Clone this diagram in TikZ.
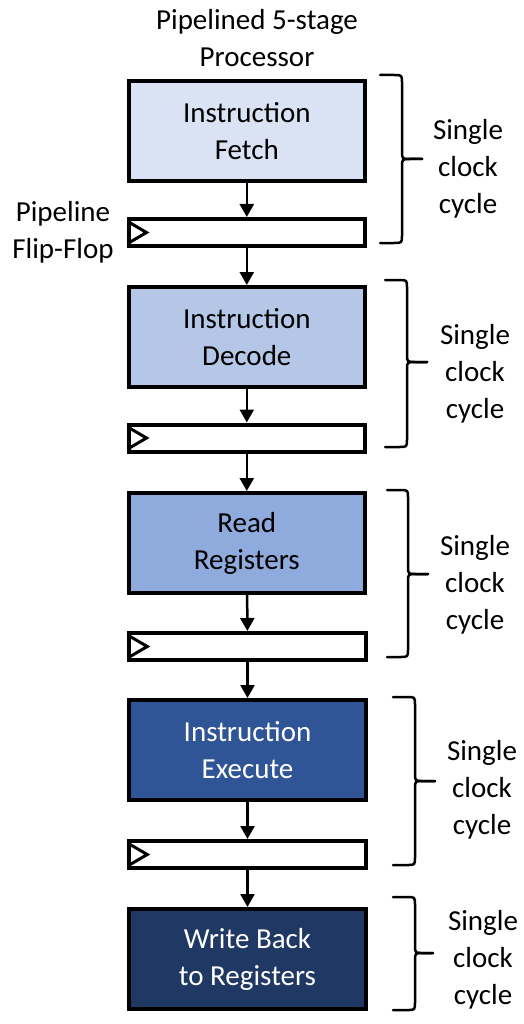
\documentclass[tikz,border=0pt]{standalone}
\usepackage{fontspec}
\setmainfont{Carlito}
\usetikzlibrary{arrows.meta,calc}
\definecolor{c1}{HTML}{DAE3F3}
\definecolor{c2}{HTML}{B4C7E7}
\definecolor{c3}{HTML}{8FAADC}
\definecolor{c4}{HTML}{2F5597}
\definecolor{c5}{HTML}{203864}
\newcommand{\cbrace}[6]{%
  \draw[bracestyle] (#1,#4) -- ({#2-8},#4) .. controls (#2,#4) .. (#2,{#4+8}) -- (#2,{#5-8}) .. controls (#2,#5) .. ({#2+8},#5) -- (#3,#5);
  \draw[bracestyle] (#3,#5) -- ({#2+8},#5) .. controls (#2,#5) .. (#2,{#5+8}) -- (#2,{#6-8}) .. controls (#2,#6) .. ({#2-8},#6) -- (#1,#6);}
\begin{document}
\begin{tikzpicture}[x=1pt,y=-1pt,
  every node/.style={font=\fontsize{29}{37}\selectfont, align=center, inner sep=0pt},
  stage/.style={draw=black, line width=4pt, minimum width=236.5pt, minimum height=100pt},
  ffbox/.style={draw=black, fill=white, line width=4pt, minimum width=236.5pt, minimum height=27pt},
  ffclk/.style={line width=3pt, line join=miter},
  flow/.style={line width=2.5pt, -{Triangle[length=13pt,width=14pt]}},
  bracestyle/.style={line width=2.5pt, line cap=round, line join=round},
  cyc/.style={text=black}]
\useasboundingbox (0,0) rectangle (524,1024);
\fill[white] (0,0) rectangle (524,1024);

\node (title) at (257,38.5) {Pipelined 5-stage\\Processor};
\node (fflabel) at (63,232.5) {Pipeline\\Flip-Flop};

\node[stage, fill=c1] (s1) at (246.8,131) {Instruction\\Fetch};
\node[ffbox] (f1) at (246.8,232.5) {};
\node[stage, fill=c2] (s2) at (246.8,337) {Instruction\\Decode};
\node[ffbox] (f2) at (246.8,438) {};
\node[stage, fill=c3] (s3) at (246.8,543) {Read\\Registers};
\node[ffbox] (f3) at (247.5,646.5) {};
\node[stage, fill=c4, text=white] (s4) at (247.5,750) {Instruction\\Execute};
\node[ffbox] (f4) at (247.5,854.5) {};
\node[stage, fill=c5, text=white] (s5) at (247.5,959) {Write Back\\to Registers};

\foreach \f in {f1,f2,f3,f4}{
  \draw[ffclk] ($(\f.west)+(2,-10.5)$) -- ($(\f.west)+(20,0)$) -- ($(\f.west)+(2,10.5)$);
}

\draw[flow] (s1) -- (f1);
\draw[flow] (f1) -- (s2);
\draw[flow] (s2) -- (f2);
\draw[flow] (f2) -- (s3);
\draw[flow] (s3) -- (f3);
\draw[flow] (f3) -- (s4);
\draw[flow] (s4) -- (f4);
\draw[flow] (f4) -- (s5);

\cbrace{380}{402}{422}{75}{159}{243}
\cbrace{385}{407}{427}{280}{362}{447}
\cbrace{387}{408}{428}{490}{574}{657}
\cbrace{393}{415}{435}{697}{781}{865}
\cbrace{393}{415}{433}{897}{953}{1010}

\node[cyc] (t1) at (468,169) {Single\\clock\\cycle};
\node[cyc] (t2) at (475,374) {Single\\clock\\cycle};
\node[cyc] (t3) at (475,585) {Single\\clock\\cycle};
\node[cyc] (t4) at (482,790) {Single\\clock\\cycle};
\node[cyc] (t5) at (483,960) {Single\\clock\\cycle};
\end{tikzpicture}
\end{document}
